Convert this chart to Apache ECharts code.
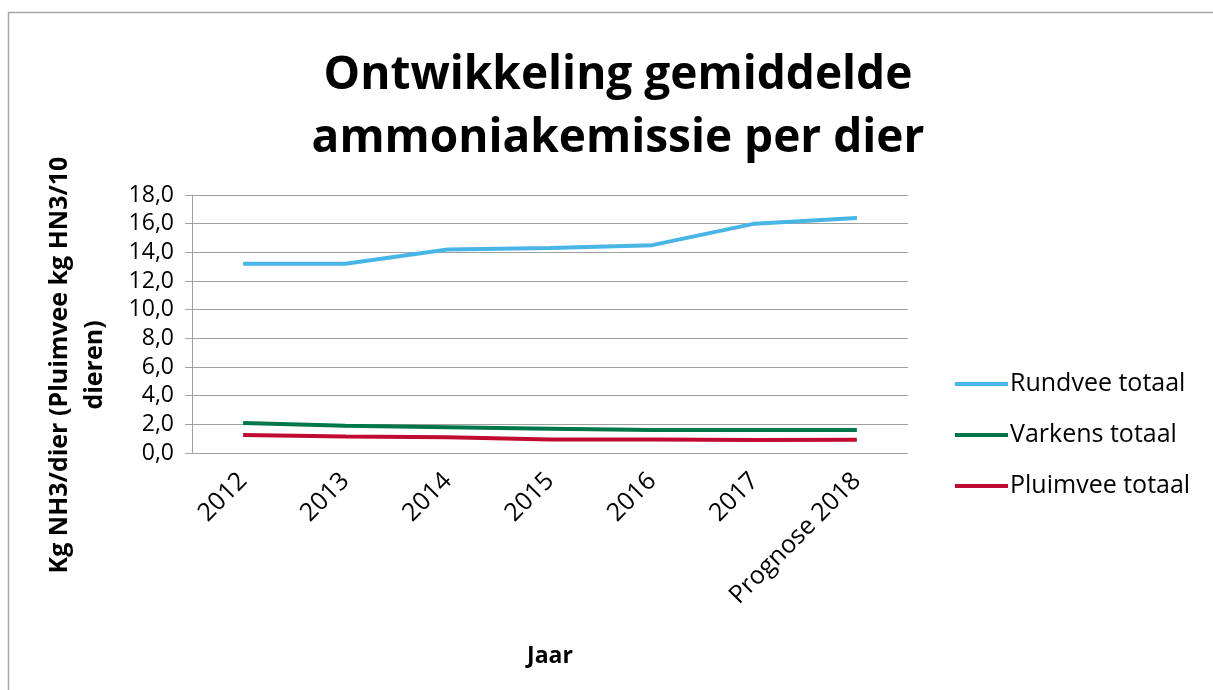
<!DOCTYPE html>
<html>
<head>
<meta charset="utf-8">
<script src="https://cdn.jsdelivr.net/npm/echarts@6/dist/echarts.min.js"></script>
<style>
html, body { margin: 0; padding: 0; background: #fff; }
#chart { width: 1213px; height: 690px; }
</style>
</head>
<body>
<div id="chart"></div>
<script>
// jaren
var jaren = ['2012', '2013', '2014', '2015', '2016', '2017', 'Prognose 2018'];
// kg NH3 per dier
var rundvee = [13.2, 13.2, 14.2, 14.3, 14.5, 16.0, 16.4];
var varkens = [2.1, 1.9, 1.8, 1.7, 1.6, 1.6, 1.6];
var pluimvee = [1.25, 1.15, 1.1, 0.95, 0.95, 0.9, 0.92];
var yTicks = [0, 2, 4, 6, 8, 10, 12, 14, 16, 18];

var fontFam = '"Open Sans", "Noto Sans", sans-serif';

var myChart = echarts.init(document.getElementById('chart'));

function lijn(naam, data, kleur) {
    return {
        name: naam,
        type: 'line',
        data: data,
        symbol: 'none',
        smooth: false,
        lineStyle: { color: kleur, width: 4 },
        itemStyle: { color: kleur }
    };
}

var option = {
    backgroundColor: '#fff',
    animation: false,
    title: {
        text: 'Ontwikkeling gemiddelde\nammoniakemissie per dier',
        left: 613,
        textAlign: 'center',
        top: 39,
        textStyle: {
            fontFamily: fontFam,
            fontWeight: 'bold',
            fontSize: 46,
            lineHeight: 63,
            color: '#000'
        }
    },
    legend: {
        orient: 'vertical',
        left: 950,
        top: 365,
        itemWidth: 53,
        itemHeight: 4,
        itemGap: 23,
        icon: 'rect',
        textStyle: { fontFamily: fontFam, fontSize: 25, lineHeight: 28, color: '#000', padding: [0, 0, 0, -3] },
        data: ['Rundvee totaal', 'Varkens totaal', 'Pluimvee totaal']
    },
    graphic: [
        {
            type: 'rect',
            shape: { x: 8.5, y: 12.5, width: 1300, height: 800 },
            style: { fill: 'none', stroke: '#a6a6a6', lineWidth: 1.5 },
            silent: true
        },
        {
            type: 'text',
            x: 77,
            y: 365,
            rotation: Math.PI / 2,
            style: {
                text: 'Kg NH3/dier (Pluimvee kg HN3/10\ndieren)',
                font: 'bold 25px ' + fontFam,
                fill: '#000',
                align: 'center',
                verticalAlign: 'middle',
                lineHeight: 35
            }
        }
    ],
    grid: {
        left: 192,
        top: 195,
        width: 716,
        height: 258,
        containLabel: false
    },
    xAxis: {
        type: 'category',
        data: jaren,
        boundaryGap: true,
        name: 'Jaar',
        nameLocation: 'middle',
        nameGap: 192,
        nameTextStyle: { fontFamily: fontFam, fontWeight: 'bold', fontSize: 23, color: '#000' },
        axisLine: { show: false },
        axisTick: { show: false },
        axisLabel: {
            rotate: 45,
            margin: 24,
            fontFamily: fontFam,
            fontSize: 25,
            color: '#000',
            interval: 0
        }
    },
    yAxis: {
        type: 'value',
        min: yTicks[0],
        max: yTicks[yTicks.length - 1],
        interval: 2,
        axisLine: { show: true, lineStyle: { color: '#a0a0a0', width: 1 } },
        axisTick: { show: true, length: 7, lineStyle: { color: '#a0a0a0' } },
        splitLine: { show: true, lineStyle: { color: '#a0a0a0', width: 1 } },
        axisLabel: {
            margin: 18,
            fontFamily: fontFam,
            fontSize: 23,
            color: '#000',
            formatter: function (v) { return v.toFixed(1).replace('.', ','); }
        }
    },
    series: [
        lijn('Rundvee totaal', rundvee, '#47b5e6'),
        lijn('Varkens totaal', varkens, '#00774a'),
        lijn('Pluimvee totaal', pluimvee, '#c00a32')
    ]
};

myChart.setOption(option);
</script>
</body>
</html>
